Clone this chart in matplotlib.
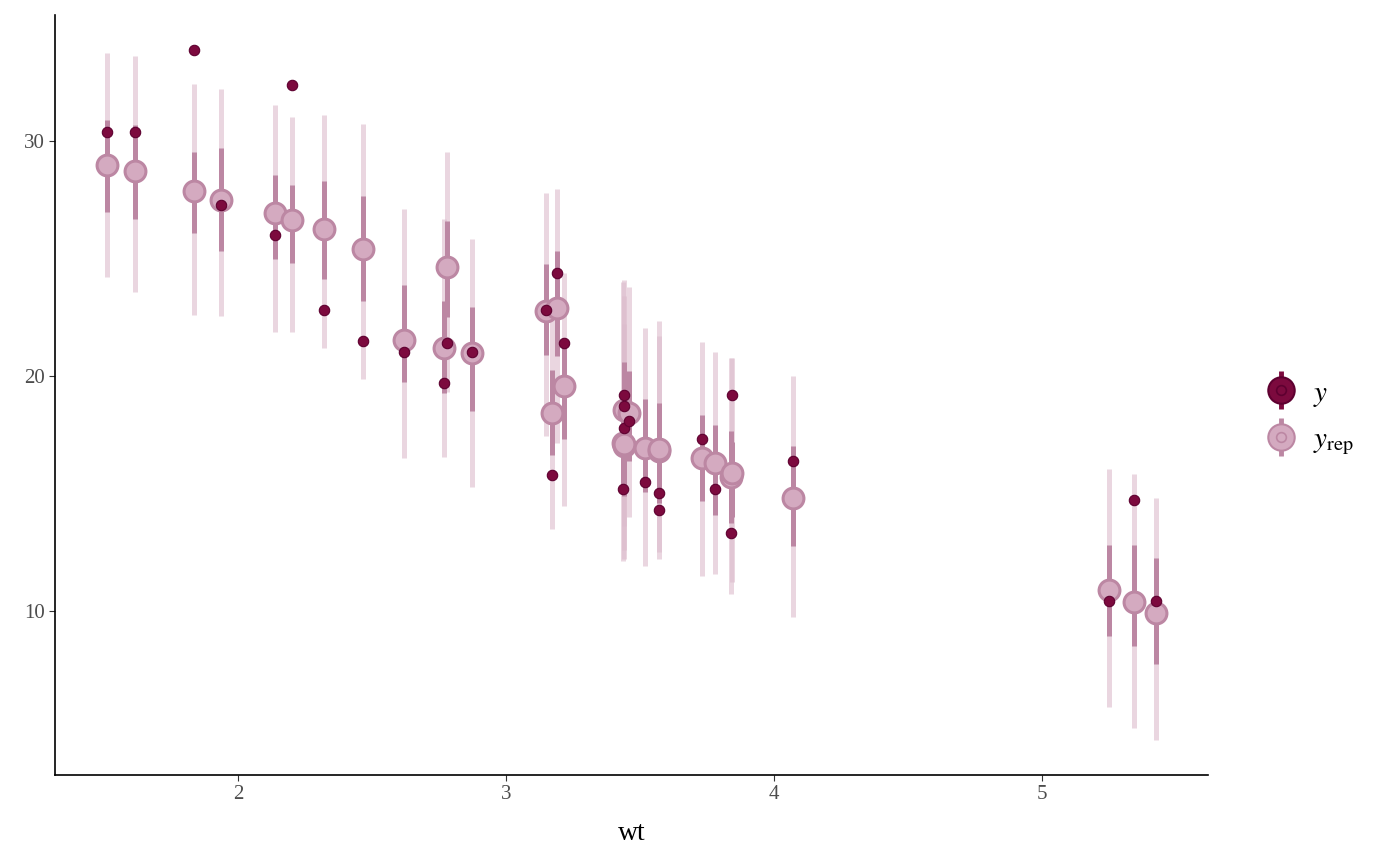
import matplotlib
matplotlib.use("Agg")
import matplotlib.pyplot as plt
from matplotlib.lines import Line2D
from matplotlib.legend_handler import HandlerTuple

# mtcars: weight and observed mpg
wt = [1.513, 1.615, 1.835, 1.935, 2.140, 2.200, 2.320, 2.465, 2.620, 2.770,
      2.780, 2.875, 3.150, 3.170, 3.190, 3.215, 3.435, 3.440, 3.440, 3.440,
      3.460, 3.520, 3.570, 3.570, 3.730, 3.780, 3.840, 3.845, 4.070, 5.250,
      5.345, 5.424]
y_obs = [30.4, 30.4, 33.9, 27.3, 26.0, 32.4, 22.8, 21.5, 21.0, 19.7,
         21.4, 21.0, 22.8, 15.8, 24.4, 21.4, 15.2, 18.7, 19.2, 17.8,
         18.1, 15.5, 14.3, 15.0, 17.3, 15.2, 13.3, 19.2, 16.4, 10.4,
         14.7, 10.4]

# posterior predictive summaries
rep_med = [28.98, 28.73, 27.89, 27.49, 26.96, 26.66, 26.25, 25.40, 21.55, 21.17,
           24.64, 20.97, 22.75, 18.43, 22.89, 19.57, 17.16, 18.55, 17.00, 17.10,
           18.43, 16.95, 16.80, 16.90, 16.52, 16.28, 15.70, 15.86, 14.80, 10.87,
           10.37, 9.89]
rep_lo50 = [26.97, 26.69, 26.07, 25.34, 24.98, 24.83, 24.15, 23.21, 19.75, 19.29,
            22.50, 18.51, 20.90, 16.63, 20.84, 17.30, 15.10, 16.50, 15.00, 14.90,
            16.40, 15.05, 14.60, 15.20, 14.66, 14.09, 13.74, 14.00, 12.75, 8.93,
            8.50, 7.75]
rep_hi50 = [30.92, 30.68, 29.53, 29.72, 28.56, 28.13, 28.30, 27.68, 23.86, 23.21,
            26.60, 22.95, 24.78, 20.27, 25.30, 21.27, 19.20, 20.60, 19.00, 19.10,
            20.20, 19.00, 18.83, 18.50, 18.32, 17.90, 17.65, 17.20, 17.02, 12.82,
            12.82, 12.26]
rep_lo90 = [24.22, 23.58, 22.58, 22.57, 21.89, 21.88, 21.17, 19.85, 16.50, 16.53,
            19.30, 15.29, 17.45, 13.48, 17.16, 14.47, 12.10, 13.60, 12.20, 12.60,
            14.00, 11.90, 12.20, 12.50, 11.50, 11.57, 10.72, 11.24, 9.73, 5.90,
            5.02, 4.48]
rep_hi90 = [33.76, 33.61, 32.42, 32.22, 31.54, 31.02, 31.10, 30.75, 27.10, 26.69,
            29.52, 25.83, 27.78, 22.60, 27.95, 24.38, 24.00, 24.10, 22.20, 23.40,
            23.80, 22.05, 22.33, 21.70, 21.46, 21.04, 20.77, 20.75, 19.98, 16.03,
            15.83, 14.81]

light = "#dcbccc"
mid = "#bc87a3"
fill_rep = "#d4aac0"
dark = "#7c0a3e"
dark_edge = "#5e0030"

plt.rcParams["font.family"] = ["Liberation Serif", "DejaVu Serif"]
plt.rcParams["mathtext.fontset"] = "stix"

fig = plt.figure(figsize=(14, 8.66), dpi=100)
ax = fig.add_axes([0.0393, 0.1051, 0.8236, 0.8776])

ax.vlines(wt, rep_lo90, rep_hi90, color=light, alpha=0.6, linewidth=3.6, zorder=1)
ax.vlines(wt, rep_lo50, rep_hi50, color=mid, linewidth=3.6, zorder=2)
ax.plot(wt, rep_med, linestyle="none", marker="o", markersize=15,
        markerfacecolor=fill_rep, markeredgecolor=mid, markeredgewidth=2.2, zorder=3)
ax.plot(wt, y_obs, linestyle="none", marker="o", markersize=7.5,
        markerfacecolor=dark, markeredgecolor=dark_edge, markeredgewidth=0.8, zorder=4)

ax.margins(x=0.05, y=0.05)
ax.set_xticks([2, 3, 4, 5])
ax.set_yticks([10, 20, 30])
ax.tick_params(axis="both", labelsize=15, colors="#333333", length=4, width=0.8)
for lab in ax.get_xticklabels() + ax.get_yticklabels():
    lab.set_color("#4d4d4d")
ax.set_xlabel("wt", fontsize=20, labelpad=12)
for side in ["top", "right"]:
    ax.spines[side].set_visible(False)
for side in ["left", "bottom"]:
    ax.spines[side].set_linewidth(1.2)
    ax.spines[side].set_color("black")


def key(col, face, edge):
    bar = Line2D([], [], linestyle="none", marker="|", markersize=27,
                 markeredgewidth=3.5, color=col)
    dot = Line2D([], [], linestyle="none", marker="o", markersize=19,
                 markerfacecolor=face, markeredgecolor=edge, markeredgewidth=1.5)
    ring = Line2D([], [], linestyle="none", marker="o", markersize=7,
                  markerfacecolor="none", markeredgecolor=edge, markeredgewidth=1.2)
    return (bar, dot, ring)


h_y = key(dark, dark, dark_edge)
h_rep = key(mid, fill_rep, mid)
ax.legend([h_y, h_rep], [r"$y$", r"$y_{\mathrm{rep}}$"],
          handler_map={tuple: HandlerTuple(ndivide=1, pad=0)},
          loc="center left", bbox_to_anchor=(1.028, 0.469), frameon=False,
          fontsize=21, handlelength=1.0, handletextpad=0.6, labelspacing=0.62)

fig.savefig("out.png", dpi=100)
